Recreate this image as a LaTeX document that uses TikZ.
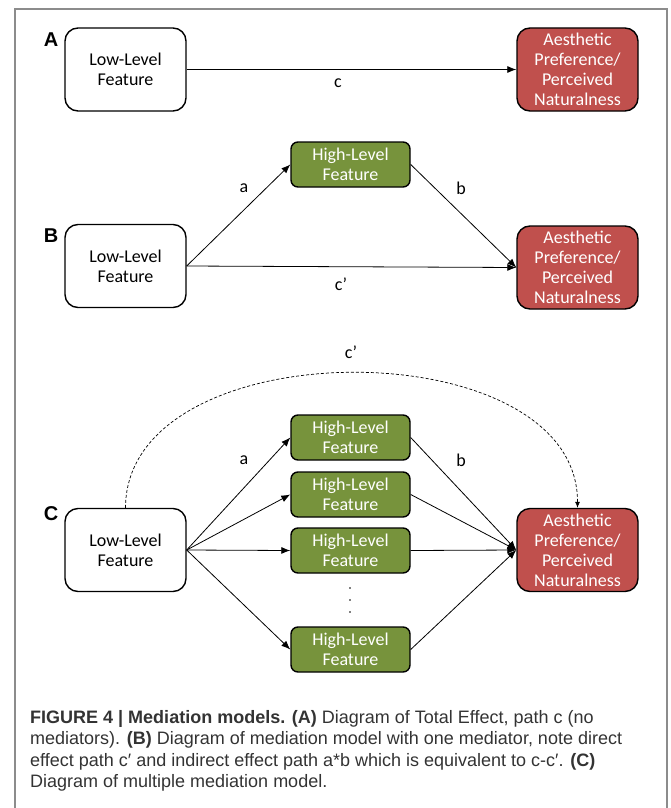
\documentclass[tikz,border=0pt]{standalone}
\usepackage{fontspec}
\setmainfont{Carlito}
\newfontfamily\capfont{Liberation Sans}
\usetikzlibrary{arrows.meta}
\definecolor{prefred}{HTML}{C0504D}
\definecolor{hlgreen}{HTML}{77933C}
\definecolor{framegray}{HTML}{8C8C8C}
\definecolor{captext}{HTML}{333333}
\tikzset{
  box/.style={draw=black, line width=1.4pt, align=center, inner sep=0pt,
    font=\fontsize{18}{20}\selectfont},
  lowbox/.style={box, fill=white, rounded corners=13pt, minimum width=121pt, minimum height=83pt},
  prefbox/.style={box, fill=prefred, text=white, rounded corners=13pt, minimum width=121pt, minimum height=83pt},
  highbox/.style={box, fill=hlgreen, text=white, rounded corners=7pt, minimum width=119pt, minimum height=45pt},
  arr/.style={line width=0.8pt, -{Latex[length=9pt,width=7pt]}},
  darr/.style={line width=0.7pt, dash pattern=on 3pt off 2pt, -{Latex[length=6pt,width=5pt]}},
  lbl/.style={font=\fontsize{18}{20}\selectfont, inner sep=0pt},
  panel/.style={font=\capfont\bfseries\fontsize{20}{20}\selectfont, inner sep=0pt},
  capline/.style={anchor=base west, inner sep=0pt, text=captext, font=\capfont\fontsize{18}{21}\selectfont},
}
\begin{document}
\begin{tikzpicture}[x=1pt,y=-1pt]
\useasboundingbox (0,0) rectangle (670,808);
% frame
\draw[framegray, line width=1.5pt] (15,812) -- (15,9) -- (667,9) -- (667,812);

% Panel A
\node[panel] (labA) at (51,40) {A};
\node[lowbox] (lowA) at (125.5,69.5) {Low-Level\\Feature};
\node[prefbox] (prefA) at (577.5,69.5) {Aesthetic\\Preference/\\Perceived\\Naturalness};
\draw[arr] (lowA.east) -- (prefA.west);
\node[lbl] (cA) at (338,83) {c};

% Panel B
\node[panel] (labB) at (51,236) {B};
\node[highbox] (highB) at (350.5,164.5) {High-Level\\Feature};
\node[lowbox] (lowB) at (125.5,266) {Low-Level\\Feature};
\node[prefbox] (prefB) at (577.5,267.5) {Aesthetic\\Preference/\\Perceived\\Naturalness};
\draw[arr] (lowB.east) -- (highB.west);
\draw[arr] (highB.east) -- (prefB.west);
\draw[arr] (lowB.east) -- (prefB.west);
\node[lbl] (aB) at (244,188) {a};
\node[lbl] (bB) at (461,188) {b};
\node[lbl] (cpB) at (341,284) {c’};

% Panel C
\node[panel] (labC) at (51,514) {C};
\node[lowbox] (lowC) at (125.5,550) {Low-Level\\Feature};
\node[prefbox] (prefC) at (577.5,550) {Aesthetic\\Preference/\\Perceived\\Naturalness};
\node[highbox] (h1) at (350.5,437.5) {High-Level\\Feature};
\node[highbox] (h2) at (350.5,494.5) {High-Level\\Feature};
\node[highbox] (h3) at (350.5,550.5) {High-Level\\Feature};
\node[highbox] (h4) at (350.5,649.5) {High-Level\\Feature};
\foreach \h in {h1,h2,h3,h4}{
  \draw[arr] (lowC.east) -- (\h.west);
  \draw[arr] (\h.east) -- (prefC.west);
}
\foreach \yy/\nm in {588/d1,600/d2,612/d3}{
  \fill (350,\yy) circle (0.9pt) coordinate (\nm);
}
\draw[darr] (lowC.north) .. controls (126,328) and (578,328) .. (prefC.north);
\node[lbl] (aC) at (244,460) {a};
\node[lbl] (bC) at (461,460) {b};
\node[lbl] (cpC) at (351,352) {c’};

% Caption
\node[capline] (cap1) at (30,723) {\textbf{FIGURE 4 | Mediation models. (A)} Diagram of Total Effect, path c (no};
\node[capline] (cap2) at (30,744.5) {mediators). \textbf{(B)} Diagram of mediation model with one mediator, note direct};
\node[capline] (cap3) at (30,766) {effect path c′ and indirect effect path a*b which is equivalent to c-c′. \textbf{(C)}};
\node[capline] (cap4) at (30,787.5) {Diagram of multiple mediation model.};
\end{tikzpicture}
\end{document}
